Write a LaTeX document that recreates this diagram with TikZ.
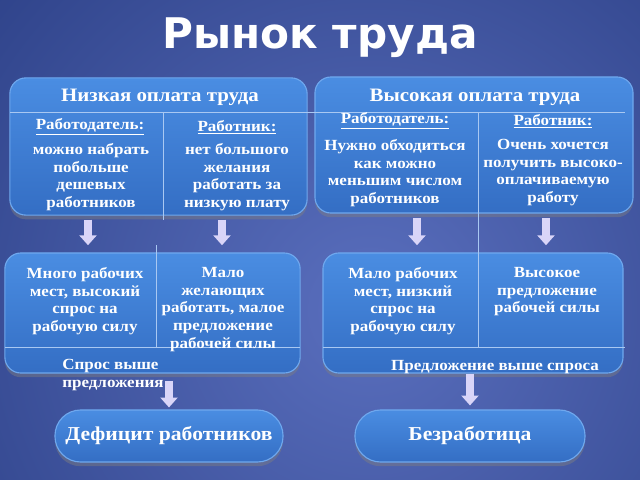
\documentclass[tikz,border=0pt]{standalone}
\usepackage{fontspec}
\setmainfont{Liberation Serif}[FakeStretch=1.1]
\newfontfamily\titlefont{DejaVu Sans}
\usetikzlibrary{arrows.meta, positioning, shadows}

\definecolor{bgdark}{HTML}{17255A}
\definecolor{bgmid}{HTML}{2F438A}
\definecolor{bglight}{HTML}{5A6FBE}
\definecolor{paneltop}{HTML}{4A8DE2}
\definecolor{panelbot}{HTML}{346EC4}
\definecolor{panelrim}{HTML}{6FA8EE}
\definecolor{divcol}{HTML}{A9C8F2}
\definecolor{arrowcol}{HTML}{D9D5F8}

\pgfdeclareradialshading{bgshade}{\pgfpoint{0bp}{0bp}}{%
  color(0bp)=(bglight); color(24bp)=(bgmid); color(46bp)=(bgdark); color(50bp)=(bgdark)}

\tikzset{
  panel/.style={draw=panelrim, line width=0.8pt, rounded corners=0.4cm,
    top color=paneltop, bottom color=panelbot,
    drop shadow={opacity=0.45, shadow xshift=0pt, shadow yshift=-3pt}},
  pill/.style={panel, rounded corners=0.64cm, minimum height=1.3cm},
  txt/.style={text=white, font=\bfseries\fontsize{11}{12.6}\selectfont,
    align=center, inner sep=0pt},
  head/.style={text=white, font=\bfseries\fontsize{13.5}{15}\selectfont, inner sep=0pt},
  result/.style={text=white, font=\bfseries\fontsize{14}{16}\selectfont},
  divider/.style={draw=divcol, line width=0.6pt},
  downarrow/.style={draw=arrowcol, line width=5pt, -{Triangle[width=12pt,length=7pt]}},
}

\begin{document}
\begin{tikzpicture}[x=0.025cm, y=-0.025cm]
    \useasboundingbox (0,0) rectangle (640,480);
    % Background
    \begin{scope}
        \clip (0,0) rectangle (640,480);
        \fill[bgdark] (0,0) rectangle (640,480);
        \shade[shading=bgshade] (370,310) circle (520);
    \end{scope}

    % Title
    \node[text=white, font=\titlefont\bfseries\fontsize{30}{32}\selectfont] (title) at (320,38) {Рынок труда};

    % Panels
    \node[panel, minimum width=7.43cm, minimum height=3.43cm] (low) at (158.5,146.5) {};
    \node[panel, minimum width=7.95cm, minimum height=3.4cm] (high) at (474,145) {};
    \node[panel, minimum width=7.38cm, minimum height=3cm] (midL) at (152.5,313) {};
    \node[panel, minimum width=7.5cm, minimum height=3cm] (midR) at (473,313) {};
    \node[pill, minimum width=5.7cm] (deficit) at (169,436) {};
    \node[pill, minimum width=5.75cm] (unemp) at (470,436) {};

    % Dividers
    \draw[divider] (10,112) -- (625,112);
    \draw[divider] (163,112) -- (163,220);
    \draw[divider] (478,112) -- (478,347);
    \draw[divider] (156,245) -- (156,347);
    \draw[divider] (5,347) -- (300,347);
    \draw[divider] (323,347) -- (625,347);

    % Low wage
    \node[head] (lowT) at (160,97) {Низкая оплата труда};
    \node[txt] (lowAh) at (90,127) {\underline{Работодатель:}};
    \node[txt, anchor=north] (lowA) at (91,143) {можно набрать\\побольше\\дешевых\\работников};
    \node[txt] (lowBh) at (237,127) {\underline{Работник:}};
    \node[txt, anchor=north] (lowB) at (237,143) {нет большого\\желания\\работать за\\низкую плату};

    % High wage
    \node[head] (highT) at (475,97) {Высокая оплата труда};
    \node[txt] (highAh) at (395,121) {\underline{Работодатель:}};
    \node[txt, anchor=north] (highA) at (395,139) {Нужно обходиться\\как можно\\меньшим числом\\работников};
    \node[txt] (highBh) at (553,121) {\underline{Работник:}};
    \node[txt, anchor=north] (highB) at (553,139) {Очень хочется\\получить высоко-\\оплачиваемую\\работу};

    % Consequences
    \node[txt, anchor=north] (midLA) at (85,267) {Много рабочих\\мест, высокий\\спрос на\\рабочую силу};
    \node[txt, anchor=north] (midLB) at (223,267) {Мало\\желающих\\работать, малое\\предложение\\рабочей силы};
    \node[txt, anchor=north west, align=left] (midLC) at (62,359) {Спрос выше\\предложения};
    \node[txt, anchor=north] (midRA) at (403,267) {Мало рабочих\\мест, низкий\\спрос на\\рабочую силу};
    \node[txt, anchor=north] (midRB) at (547,267) {Высокое\\предложение\\рабочей силы};
    \node[txt] (midRC) at (495,367) {Предложение выше спроса};

    % Results
    \node[result] at (deficit) {Дефицит работников};
    \node[result] at (unemp) {Безработица};

    % Arrows
    \coordinate (c1) at (88,0);
    \coordinate (c2) at (222,0);
    \coordinate (c3) at (417,0);
    \coordinate (c4) at (546,0);
    \draw[downarrow, shorten <=0.1cm, shorten >=0.18cm] (low.south -| c1) -- (midL.north -| c1);
    \draw[downarrow, shorten <=0.1cm, shorten >=0.18cm] (low.south -| c2) -- (midL.north -| c2);
    \draw[downarrow, shorten <=0.12cm, shorten >=0.18cm] (high.south -| c3) -- (midR.north -| c3);
    \draw[downarrow, shorten <=0.12cm, shorten >=0.18cm] (high.south -| c4) -- (midR.north -| c4);
    \draw[downarrow, shorten <=0.18cm, shorten >=0.05cm] (midL.south -| deficit) -- (deficit.north);
    \draw[downarrow, shorten <=0.0cm, shorten >=0.1cm] (midR.south -| unemp) -- (unemp.north);
\end{tikzpicture}
\end{document}
